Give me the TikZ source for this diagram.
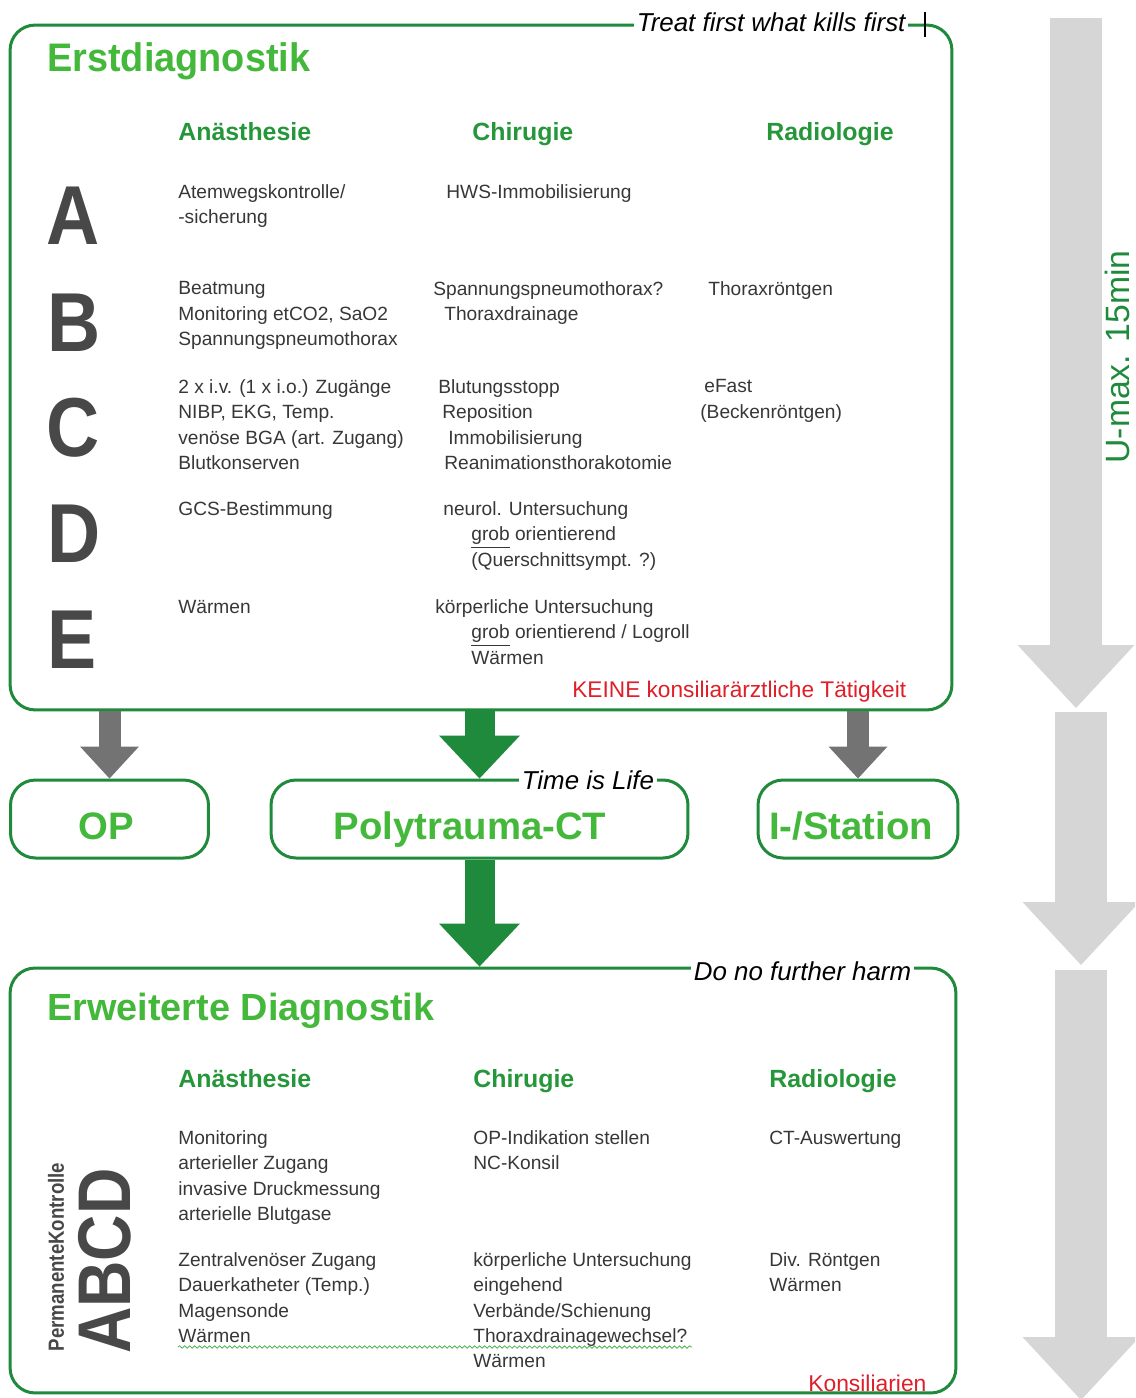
\documentclass[tikz,border=0pt]{standalone}
\usepackage{fontspec}
\usepackage{graphicx}
\setmainfont{Liberation Sans}
\usetikzlibrary{arrows.meta,decorations.pathmorphing}

\definecolor{boxgreen}{RGB}{31,138,59}
\definecolor{titlegreen}{RGB}{68,184,58}
\definecolor{headgreen}{RGB}{38,150,58}
\definecolor{arrowgray}{RGB}{115,115,115}
\definecolor{railgray}{RGB}{214,214,214}
\definecolor{textgray}{RGB}{55,55,55}
\definecolor{lettergray}{RGB}{72,72,72}
\definecolor{alertred}{RGB}{222,30,40}
\definecolor{spellgreen}{RGB}{60,170,60}

\begin{document}
\begin{tikzpicture}[x=0.02cm, y=-0.02cm,
  box/.style={shape=rectangle, draw=boxgreen, line width=0.06cm, rounded corners=0.5cm},
  smallbox/.style={box, text=titlegreen, font=\fontsize{21.8}{26}\selectfont\bfseries, text height=0.82cm, text depth=0pt, minimum height=1.56cm},
  txt/.style={anchor=north west, yshift=0.353cm, inner sep=0pt, align=left, text=textgray, font=\fontsize{10.9}{14.35}\selectfont, execute at begin node=\strut},
  block/.style={txt, yshift=-0.08cm},
  head/.style={anchor=base west, inner sep=0pt, text=headgreen, font=\fontsize{14.17}{17}\selectfont\bfseries},
  title/.style={anchor=base west, inner sep=0pt, text=titlegreen, font=\bfseries},
  letter/.style={anchor=base, inner sep=0pt, text=lettergray, font=\fontsize{47.6}{50}\selectfont\bfseries},
  motto/.style={anchor=base west, fill=white, inner xsep=0.05cm, inner ysep=0.02cm, font=\fontsize{14.74}{17}\selectfont\itshape},
  alert/.style={anchor=base west, inner sep=0pt, text=alertred},
  flow/.style={draw=boxgreen, line width=0.6cm, -{Triangle[width=1.62cm,length=0.86cm,line width=0pt]}},
  side/.style={draw=arrowgray, line width=0.44cm, -{Triangle[width=1.18cm,length=0.64cm,line width=0pt]}},
  rail/.style={draw=railgray, line width=1.04cm, -{Triangle[width=2.34cm,length=1.26cm,line width=0pt]}},
  spell/.style={draw=spellgreen, line width=0.4pt, decorate, decoration={snake, amplitude=0.025cm, segment length=0.1cm}}
]
\useasboundingbox (0,0) rectangle (1135,1398);
\clip (0,0) rectangle (1135,1398);

% time line on the right
\coordinate (r1a) at (1076,18);
\coordinate (r1b) at (1076,708);
\coordinate (r2a) at (1081,712);
\coordinate (r2b) at (1081,965);
\coordinate (r3a) at (1081,970);
\coordinate (r3b) at (1081,1400);
\draw[rail] (r1a) -- (r1b);
\draw[rail] (r2a) -- (r2b);
\draw[rail] (r3a) -- (r3b);
\node[rotate=90, inner sep=0pt, text=boxgreen, font=\fontsize{19.2}{22}\selectfont] (umax) at (1117,357) {U-max. 15min};

% boxes
\node[box, minimum width=18.84cm, minimum height=13.7cm] (erst) at (481,367.5) {};
\node[smallbox, minimum width=3.96cm] (op) at (109.5,819) {OP\hspace*{0.12cm}};
\node[smallbox, minimum width=8.34cm] (ct) at (479.5,819) {Polytrauma-CT\hspace*{0.38cm}};
\node[smallbox, minimum width=4cm] (station) at (858,819) {I-/Station\hspace*{0.28cm}};
\node[box, minimum width=18.92cm, minimum height=8.5cm] (erw) at (483,1180.5) {};

\node[motto] (kills) at (634,32) {Treat first what kills first};
\draw[black, line width=0.6pt] (925,12) -- (925,37);
\node[motto] (life) at (519,789) {Time is Life};
\node[motto] (harm) at (691,980) {Do no further harm};

% arrows
\draw[side] (erst.south -| op.north) -- (op.north);
\draw[flow] (erst.south -| ct.north) -- (ct.north);
\draw[side] (erst.south -| station.north) -- (station.north);
\draw[flow] (ct.south) -- (ct.south |- erw.north);

% Erstdiagnostik
\node[title] (t1) at (47,72) {\scalebox{0.95}[1]{\fontsize{22.68}{26}\selectfont Erstdiagnostik}};
\node[head] (h1a) at (178,141) {Anästhesie};
\node[head] (h1c) at (472,141) {Chirugie};
\node[head] (h1r) at (766,141) {Radiologie};

\node[letter] (lA) at (73,245) {\scalebox{0.88}[1]{A}};
\node[letter] (lB) at (74,352) {\scalebox{0.88}[1]{B}};
\node[letter] (lC) at (73,456) {\scalebox{0.88}[1]{C}};
\node[letter] (lD) at (74,562) {\scalebox{0.88}[1]{D}};
\node[letter] (lE) at (72,668) {\scalebox{0.88}[1]{E}};

\node[block] (aA) at (178,198) {Atemwegskontrolle/\\-sicherung};
\node[txt] (cA) at (446,198) {HWS-Immobilisierung};
\node[block] (aB) at (178,295) {Beatmung\\Monitoring etCO2, SaO2\\Spannungspneumothorax};
\node[block] (cB) at (433,295) {Spannungspneumothorax?\\\hspace*{0.22cm}Thoraxdrainage};
\node[txt] (rB) at (708,295) {Thoraxröntgen};
\node[block] (aC) at (178,393) {2 x i.v. (1 x i.o.) Zugänge\\NIBP, EKG, Temp.\\venöse BGA (art. Zugang)\\Blutkonserven};
\node[block] (cC) at (438,393) {Blutungsstopp\\\hspace*{0.08cm}Reposition\\\hspace*{0.2cm}Immobilisierung\\\hspace*{0.12cm}Reanimationsthorakotomie};
\node[block] (rC) at (704,393) {eFast\\\hspace*{-0.08cm}(Beckenröntgen)};
\node[txt] (aD) at (178,515) {GCS-Bestimmung};
\node[block] (cD) at (443,515) {neurol. Untersuchung\\\hspace*{0.56cm}\underline{grob} orientierend\\\hspace*{0.56cm}(Querschnittsympt. ?)};
\node[txt] (aE) at (178,613) {Wärmen};
\node[block] (cE) at (435,613) {körperliche Untersuchung\\\hspace*{0.72cm}\underline{grob} orientierend / Logroll\\\hspace*{0.72cm}Wärmen};
\node[alert, font=\fontsize{12.9}{15}\selectfont] (keine) at (572,697) {KEINE konsiliarärztliche Tätigkeit};

% Erweiterte Diagnostik
\node[title] (t2) at (47,1020) {\fontsize{21.54}{26}\selectfont Erweiterte Diagnostik};
\node[head] (h2a) at (178,1087) {Anästhesie};
\node[head] (h2c) at (473,1087) {Chirugie};
\node[head] (h2r) at (769,1087) {Radiologie};

\node[rotate=90, inner sep=0pt, text=lettergray] (abcd) at (105,1261) {\scalebox{0.86}[1]{\fontsize{42.5}{45}\selectfont\bfseries ABCD}};
\node[rotate=90, inner sep=0pt, text=lettergray] (perm) at (56,1257) {\scalebox{0.85}[1]{\fontsize{12.5}{15}\selectfont\bfseries PermanenteKontrolle}};

\node[block] (a1) at (178,1144) {Monitoring\\arterieller Zugang\\invasive Druckmessung\\arterielle Blutgase};
\node[block] (a2) at (178,1266) {Zentralvenöser Zugang\\Dauerkatheter (Temp.)\\Magensonde\\Wärmen};
\node[block] (c1) at (473,1144) {OP-Indikation stellen\\NC-Konsil};
\node[block] (c2) at (473,1266) {körperliche Untersuchung\\eingehend\\Verbände/Schienung\\Thoraxdrainagewechsel?\\Wärmen};
\node[txt] (r1) at (769,1144) {CT-Auswertung};
\node[block] (r2) at (769,1266) {Div. Röntgen\\Wärmen};
\draw[spell] (178,1347) -- (692,1347);
\node[alert, font=\fontsize{13}{15}\selectfont] (kons) at (808,1391) {Konsiliarien};
\end{tikzpicture}
\end{document}
